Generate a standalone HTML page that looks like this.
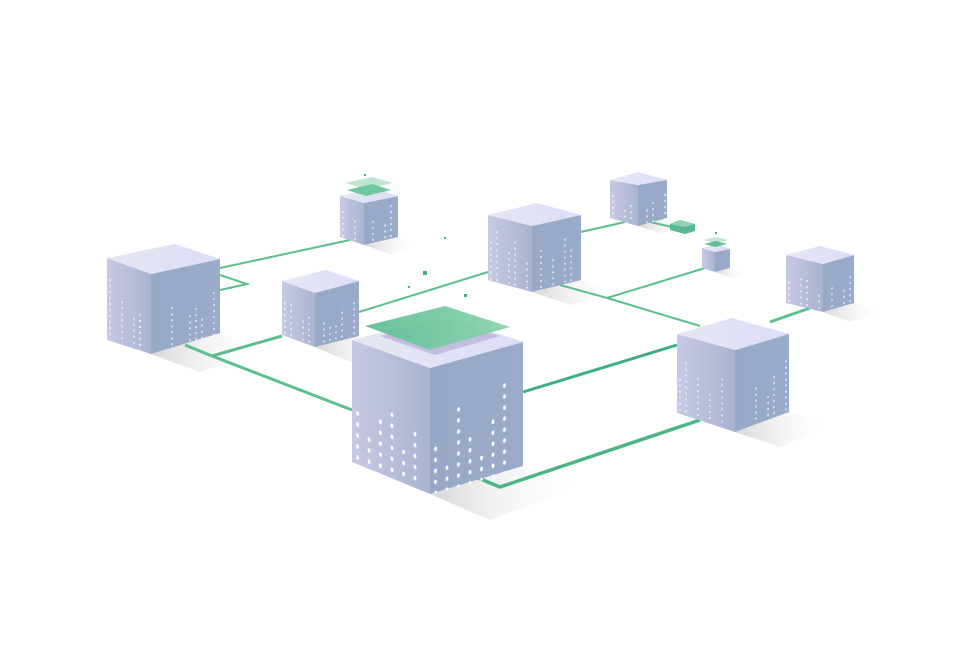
<!DOCTYPE html>
<html><head><meta charset="utf-8"><style>html,body{margin:0;padding:0;background:#fff}svg{display:block}</style></head>
<body>
<svg width="960" height="669" viewBox="0 0 960 669" xmlns="http://www.w3.org/2000/svg">
<defs>
<linearGradient id="lf" x1="0" y1="0" x2="1" y2="0"><stop offset="0" stop-color="#c7c9e4"/><stop offset="1" stop-color="#a9b4d0"/></linearGradient>
<linearGradient id="rf" x1="0" y1="0" x2="1" y2="0"><stop offset="0" stop-color="#97a9c7"/><stop offset="1" stop-color="#9babca"/></linearGradient>
<linearGradient id="tf" x1="0" y1="0" x2="1" y2="0"><stop offset="0" stop-color="#e6e7f2"/><stop offset="1" stop-color="#dcdcf8"/></linearGradient>
<linearGradient id="sh" x1="0" y1="0" x2="1" y2="0"><stop offset="0" stop-color="#d6d6d6"/><stop offset="1" stop-color="#fff" stop-opacity="0"/></linearGradient>
<linearGradient id="gp" x1="0" y1="0" x2="1" y2="0"><stop offset="0" stop-color="#5fbf98"/><stop offset="1" stop-color="#8ed3ad"/></linearGradient>
<pattern id="dots" width="11.5" height="11" patternUnits="userSpaceOnUse"><ellipse cx="5.5" cy="5.5" rx="1.4" ry="2.2" fill="#fff"/></pattern>
<pattern id="dotsS" width="6" height="6" patternUnits="userSpaceOnUse"><rect x="2.4" y="2" width="1.2" height="1.8" fill="#fff"/></pattern>
</defs>

<g fill="url(#sh)">
<polygon points="430,494 523,466 585,485 490,520"/>
<polygon points="151,354 220,333 270,350 200,372"/>
<polygon points="315,347 359,336 395,350 350,362"/>
<polygon points="364,245 398,237 420,246 390,254"/>
<polygon points="532,292 581,280 620,293 570,305"/>
<polygon points="638,226 667,218 690,226 660,233"/>
<polygon points="715,272 730,268 748,274 732,278"/>
<polygon points="823,312 854,303 885,312 850,322"/>
<polygon points="735,432 789,412 835,425 780,447"/>
</g>

<g fill="none" stroke="#5cbf8e" stroke-width="2">
<polyline points="220,268 350,240"/>
<polyline points="220,275 247,284 220,290"/>
<polyline points="185,345 212,356 282,336" stroke-width="3"/>
<polyline points="212,356 352,410" stroke-width="3"/>
<polyline points="359,312 488,272"/>
<polyline points="581,232 625,222"/>
<polyline points="650,222 672,227"/>
<polyline points="560,285 607,298 705,268"/>
<polyline points="607,298 700,326"/>
<polyline points="523,392 677,345" stroke="#3fae84" stroke-width="3"/>
<polyline points="478,478 500,487 700,420" stroke="#4cb585" stroke-width="3.5"/>
<polyline points="770,322 810,308" stroke-width="3"/>
</g>

<!-- A -->
<g>
<polygon points="107,258 151,274 151,354 107,340" fill="url(#lf)"/>
<polygon points="151,274 220,259 220,333 151,354" fill="url(#rf)"/>
<polygon points="107,258 175,244 220,259 151,274" fill="url(#tf)"/>
<g transform="matrix(1,0.36,0,1,107,258)" fill="url(#dotsS)"><rect x="0" y="18" width="6" height="62"/><rect x="12" y="36" width="6" height="44"/><rect x="24" y="48" width="12" height="32"/><rect x="30" y="40" width="6" height="40"/></g>
<g transform="matrix(1,-0.22,0,1,151,274)" fill="url(#dotsS)"><rect x="18" y="36" width="6" height="42"/><rect x="36" y="48" width="6" height="30"/><rect x="42" y="42" width="6" height="36"/><rect x="60" y="30" width="6" height="48"/><rect x="48" y="54" width="6" height="24"/></g>
</g>
<!-- C -->
<g>
<polygon points="340,196 364,203 364,245 340,237" fill="url(#lf)"/>
<polygon points="364,203 398,196 398,237 364,245" fill="url(#rf)"/>
<polygon points="340,196 375,188 398,196 364,203" fill="url(#tf)"/>
<g transform="matrix(1,0.3,0,1,340,196)" fill="url(#dotsS)"><rect x="0" y="12" width="6" height="30"/><rect x="12" y="20" width="6" height="22"/></g>
<g transform="matrix(1,-0.22,0,1,364,203)" fill="url(#dotsS)"><rect x="6" y="18" width="6" height="24"/><rect x="18" y="24" width="6" height="18"/><rect x="24" y="8" width="6" height="34"/></g>
<polygon points="345,183 372,177 393,183 366,189" fill="#bfe6d1"/>
<polygon points="347,190 372,184 391,190 366,196" fill="#6fc8a0"/>
</g>
<!-- B -->
<g>
<polygon points="282,281 315,293 315,347 282,335" fill="url(#lf)"/>
<polygon points="315,293 359,281 359,336 315,347" fill="url(#rf)"/>
<polygon points="282,281 326,270 359,281 315,293" fill="url(#tf)"/>
<g transform="matrix(1,0.36,0,1,282,281)" fill="url(#dotsS)"><rect x="0" y="18" width="12" height="36"/><rect x="18" y="30" width="6" height="24"/><rect x="24" y="24" width="6" height="30"/></g>
<g transform="matrix(1,-0.27,0,1,315,293)" fill="url(#dotsS)"><rect x="6" y="30" width="6" height="24"/><rect x="12" y="36" width="12" height="18"/><rect x="24" y="24" width="6" height="30"/><rect x="36" y="18" width="6" height="36"/></g>
</g>
<!-- D -->
<g>
<polygon points="488,215 532,226 532,292 488,280" fill="url(#lf)"/>
<polygon points="532,226 581,215 581,280 532,292" fill="url(#rf)"/>
<polygon points="488,215 537,203 581,215 532,226" fill="url(#tf)"/>
<g transform="matrix(1,0.25,0,1,488,215)" fill="url(#dotsS)"><rect x="0" y="24" width="6" height="42"/><rect x="6" y="12" width="6" height="54"/><rect x="18" y="30" width="6" height="36"/><rect x="24" y="18" width="6" height="48"/><rect x="36" y="36" width="6" height="30"/></g>
<g transform="matrix(1,-0.22,0,1,532,226)" fill="url(#dotsS)"><rect x="6" y="24" width="6" height="40"/><rect x="18" y="36" width="6" height="28"/><rect x="30" y="18" width="6" height="46"/><rect x="36" y="30" width="6" height="34"/></g>
</g>
<!-- E -->
<g>
<polygon points="610,180 638,185 638,226 610,218" fill="url(#lf)"/>
<polygon points="638,185 667,180 667,218 638,226" fill="url(#rf)"/>
<polygon points="610,180 638,172 667,180 638,185" fill="url(#tf)"/>
<g transform="matrix(1,0.25,0,1,610,180)" fill="url(#dotsS)"><rect x="0" y="12" width="6" height="26"/><rect x="12" y="24" width="6" height="14"/><rect x="18" y="18" width="6" height="20"/></g>
<g transform="matrix(1,-0.18,0,1,638,185)" fill="url(#dotsS)"><rect x="6" y="24" width="6" height="16"/><rect x="12" y="18" width="6" height="22"/><rect x="24" y="12" width="6" height="28"/></g>
<polygon points="670,224 680,220 695,224 695,231 685,234 670,230" fill="#57b894"/>
<polygon points="670,224 680,220 695,224 685,227" fill="#8fd3b2"/>
</g>
<!-- F -->
<g>
<polygon points="702,248 715,252 715,272 702,268" fill="url(#lf)"/>
<polygon points="715,252 730,249 730,268 715,272" fill="url(#rf)"/>
<polygon points="702,248 718,244 730,249 715,252" fill="url(#tf)"/>
<polygon points="703,240 716,237 728,240 715,243" fill="#bfe6d1"/>
<polygon points="704,244 716,241 727,244 715,247" fill="#5fbf98"/>
</g>
<!-- G -->
<g>
<polygon points="786,255 823,264 823,312 786,303" fill="url(#lf)"/>
<polygon points="823,264 854,255 854,303 823,312" fill="url(#rf)"/>
<polygon points="786,255 820,246 854,255 823,264" fill="url(#tf)"/>
<g transform="matrix(1,0.24,0,1,786,255)" fill="url(#dotsS)"><rect x="0" y="24" width="6" height="24"/><rect x="12" y="18" width="12" height="30"/><rect x="30" y="30" width="6" height="18"/></g>
<g transform="matrix(1,-0.29,0,1,823,264)" fill="url(#dotsS)"><rect x="6" y="24" width="6" height="24"/><rect x="18" y="30" width="6" height="18"/><rect x="24" y="18" width="6" height="30"/></g>
</g>
<!-- H -->
<g>
<polygon points="677,334 735,350 735,432 677,413" fill="url(#lf)"/>
<polygon points="735,350 789,334 789,412 735,432" fill="url(#rf)"/>
<polygon points="677,334 732,318 789,334 735,350" fill="url(#tf)"/>
<g transform="matrix(1,0.28,0,1,677,334)" fill="url(#dotsS)"><rect x="0" y="42" width="6" height="36"/><rect x="6" y="24" width="6" height="54"/><rect x="18" y="36" width="6" height="42"/><rect x="30" y="48" width="6" height="30"/><rect x="42" y="30" width="6" height="48"/></g>
<g transform="matrix(1,-0.3,0,1,735,350)" fill="url(#dotsS)"><rect x="18" y="42" width="6" height="38"/><rect x="30" y="54" width="6" height="26"/><rect x="36" y="36" width="6" height="44"/><rect x="48" y="24" width="6" height="56"/></g>
</g>
<!-- big cube -->
<g>
<polygon points="352,340 430,368 430,494 352,462" fill="url(#lf)"/>
<polygon points="430,368 523,342 523,466 430,494" fill="url(#rf)"/>
<polygon points="352,340 445,316 523,342 430,368" fill="url(#tf)"/>
<polygon points="380,336 445,320 500,336 435,355" fill="#c3bedf"/>
<polygon points="365,326 445,306 510,327 430,350" fill="url(#gp)" opacity="0.95"/>
<g transform="matrix(1,0.36,0,1,352,340)" fill="url(#dots)"><rect x="0" y="66" width="11.5" height="56"/><rect x="11.5" y="88" width="11.5" height="34"/><rect x="23" y="66" width="11.5" height="56"/><rect x="34.5" y="55" width="11.5" height="67"/><rect x="46" y="88" width="11.5" height="34"/><rect x="57.5" y="66" width="11.5" height="56"/></g>
<g transform="matrix(1,-0.28,0,1,430,368)" fill="url(#dots)"><rect x="0" y="77" width="11.5" height="50"/><rect x="11.5" y="99" width="11.5" height="28"/><rect x="23" y="44" width="11.5" height="83"/><rect x="34.5" y="77" width="11.5" height="50"/><rect x="46" y="99" width="11.5" height="28"/><rect x="57.5" y="66" width="11.5" height="61"/><rect x="69" y="33" width="11.5" height="94"/></g>
</g>
<g fill="#3fae84">
<rect x="423" y="271" width="4" height="4"/><rect x="464" y="294" width="3" height="3"/>
<rect x="444" y="237" width="2" height="2"/><rect x="408" y="286" width="2" height="2"/>
<rect x="364" y="174" width="2" height="2"/><rect x="715" y="232" width="2" height="2"/>
</g>
</svg>
</body></html>
